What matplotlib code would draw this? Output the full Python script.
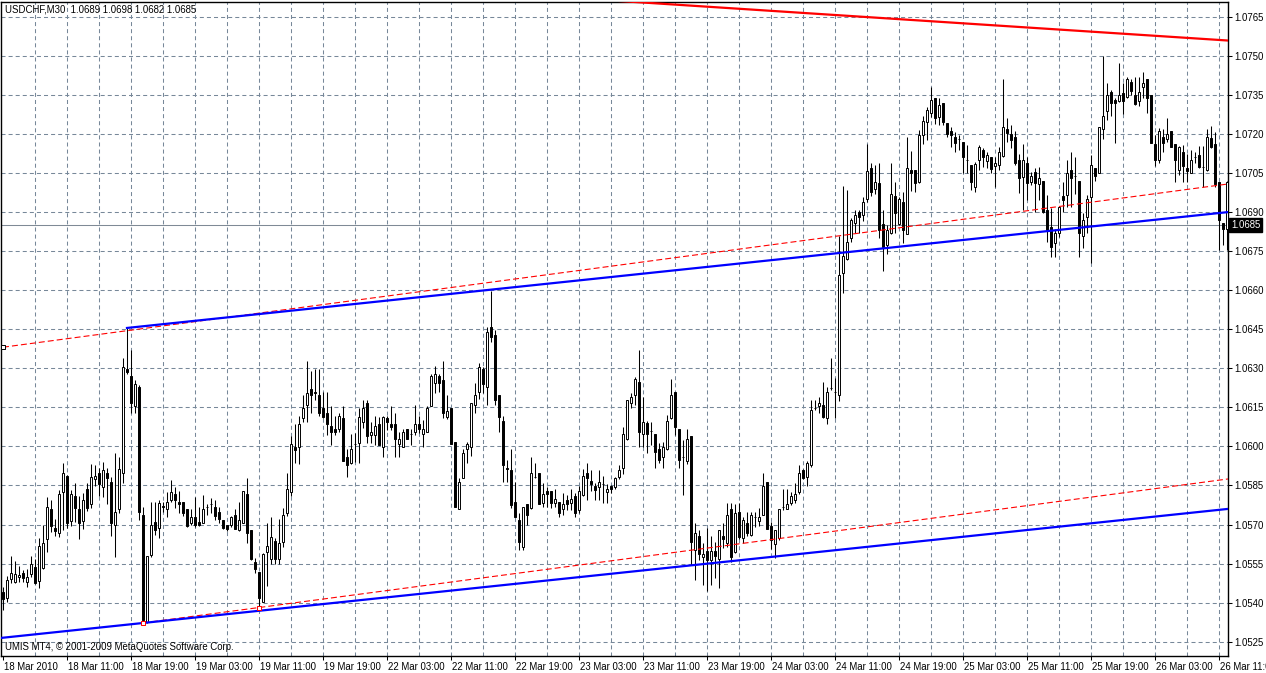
import numpy as np
import matplotlib
matplotlib.use("Agg")
import matplotlib.pyplot as plt
import matplotlib.transforms as mtransforms

# USDCHF M30 bars, prices in pips above 1.0000
open_pips = [
    544, 541.6, 549, 548, 550, 551.5, 548, 551, 553.8, 548.4,
    553.2, 564.5, 576, 568.5, 566.6, 582.6, 588.6, 571.3, 580.9, 576,
    571.3, 583.5, 577.7, 587.6, 589.6, 584.5, 589.9, 586.4, 569.7, 575.8,
    589.6, 629.7, 627, 615.7, 622.7, 573.6, 532.7, 558.3, 571, 568.5,
    577, 575.8, 579.6, 581.7, 578.8, 578.8, 575.8, 570.7, 573, 571,
    570.7, 576.6, 577.9, 576.6, 574.9, 571.7, 569.8, 569.7, 573.6, 567.9,
    570.7, 581.7, 567.9, 555.7, 551.9, 540.3, 559.6, 556.6, 563.8, 556.6,
    563.4, 574.5, 582.6, 599.9, 599.9, 610.8, 615.9, 621.9, 620.8, 619.7,
    614.6, 612.7, 607.8, 606.5, 606.5, 610.8, 595.8, 593.5, 601, 601.4,
    609.5, 616.5, 604.4, 604.4, 608.8, 599.6, 610.8, 608.8, 608.8, 600.9,
    599.6, 606.5, 604.7, 605.6, 608.6, 604.8, 605.6, 615.5, 624.2, 627,
    625.7, 611.4, 614.6, 601.8, 575.8, 587.7, 598.9, 599.9, 615.9, 621,
    629.6, 622.7, 645.7, 642.8, 619.7, 609.9, 591.6, 590.9, 578.8, 571.7,
    561.5, 577.9, 576.2, 588.4, 589.6, 578.4, 583, 583, 578.4, 578.8,
    575.8, 579.6, 578.4, 580.9, 575.6, 581.3, 589.9, 586.8, 584.8, 584.5,
    585.5, 582.6, 584.8, 584.5, 588.4, 591.6, 602.7, 616.5, 619.7, 624.9,
    604.8, 608.9, 606, 604.8, 598.9, 595.8, 598.9, 610.8, 621, 606.5,
    596, 594.5, 604, 560.2, 565.6, 557.7, 560, 556.4, 560, 556.6,
    565.6, 562.8, 575.8, 559.6, 574.9, 564.7, 570.7, 566, 572.7, 571.5,
    573.6, 586.4, 569.5, 562.7, 565, 576.6, 575.8, 578.4, 579.6, 582.6,
    590.9, 588.4, 592.8, 614.6, 615.5, 615.9, 610.8, 622.3, 620.8, 619.7,
    666.7, 671.8, 679.9, 685.7, 690.1, 688.9, 694.9, 706.8, 698.7, 701,
    685.6, 677.3, 681.8, 696.1, 685.4, 694, 681.6, 706.1, 706.1, 701.7,
    719.6, 724.7, 727.9, 734, 726.6, 731.8, 724.1, 721.3, 718.7, 717.9,
    717, 710, 708.1, 699.8, 710, 713.8, 709.7, 711, 707.7, 708.1,
    711.5, 722.1, 720, 718.7, 710, 703.3, 708.7, 701.7, 705.5, 700.8,
    702, 690.8, 684.4, 678, 681.8, 696.2, 696.5, 706.1, 703.8, 702.1,
    680.8, 688.2, 695.9, 706.8, 704.9, 721.8, 729, 736.3, 733, 732.8,
    735.9, 734.3, 740.1, 735, 732.8, 737.9, 741, 735, 716.1, 710,
    719, 717.9, 721.3, 716.1, 706.2, 713.2, 706.8, 704.9, 711, 711.9,
    707.2, 706.2, 718.3, 716.1, 701.7, 685.9, 683.4,
]
high_pips = [
    546, 550.2, 558, 556, 554, 552.7, 553, 558, 556.6, 564.7,
    569.7, 580.7, 579.4, 572, 583.2, 593.5, 589, 583.2, 586, 580.9,
    582, 586, 593.2, 592.8, 591.6, 594.1, 591.6, 588.4, 597.6, 596,
    633.8, 645.5, 637, 625.5, 623.6, 576.8, 558, 578.8, 578.8, 579.6,
    578.8, 582.6, 587, 584.5, 583, 578.8, 575.8, 575.8, 580.7, 576.8,
    581.3, 577.8, 580, 579.6, 576.8, 571.7, 569.8, 573.2, 575.8, 578.8,
    582.8, 587.7, 567.9, 557, 551.9, 558.9, 570.4, 573, 565, 572.3,
    576.2, 589.9, 604, 608.8, 611.7, 619.7, 632.8, 628.9, 629.6, 629.6,
    621, 621, 615.5, 611.7, 612.7, 615.5, 599.2, 604.8, 605, 614.6,
    617.8, 617.8, 609.5, 611.7, 611.4, 611.7, 611.7, 615.5, 612.7, 605.6,
    606.5, 606.5, 606.8, 615.9, 611.7, 610.1, 615.5, 628, 630.9, 627.8,
    632.8, 619.7, 614.6, 601.8, 587.7, 598.9, 601.8, 616.8, 624.2, 631.9,
    630.6, 645.7, 659.8, 644.7, 619.7, 611.7, 594.8, 598.9, 586.4, 574.3,
    576.6, 577.9, 595.8, 593.7, 589.6, 586.1, 584.5, 583, 583.5, 578.8,
    582, 581.3, 583.5, 582.2, 584.8, 591.2, 593.5, 590.9, 585.8, 590.8,
    588.6, 585.5, 585.2, 588.4, 592.8, 607.6, 617.8, 620.4, 626.8, 637,
    619.1, 609.9, 609.5, 604.8, 601.2, 601.8, 612, 625.8, 621, 606.5,
    602.4, 606.5, 604, 570.7, 567.9, 562.8, 568.5, 565.6, 563.4, 567.9,
    570.7, 578.4, 578.1, 577.9, 578.1, 573, 574.9, 574.9, 574.9, 576.2,
    589.6, 586.4, 571, 567.9, 575.8, 583.5, 583.5, 582.6, 585.8, 592.8,
    591.2, 594.5, 617.8, 617.8, 619.1, 624.8, 622.9, 633.8, 626.1, 680.8,
    700, 698.5, 687.6, 690.8, 690.8, 695.9, 716.1, 708.7, 708.1, 709,
    690.8, 685, 708.7, 701.7, 695.9, 697.8, 719, 713.6, 706.1, 721.5,
    727, 730.5, 738.2, 734, 733.7, 731.8, 724.1, 722.8, 720.9, 719.6,
    717, 715.7, 708.1, 709.4, 715.8, 714.5, 713.2, 711.3, 711.3, 715.1,
    741.1, 726, 723.4, 721.3, 712.5, 716.1, 711.3, 705.5, 706.8, 707.2,
    702, 696.5, 691.4, 683.7, 692.1, 701.7, 710, 713.2, 711, 702.1,
    689.5, 696.6, 711.9, 706.8, 722.8, 750, 739.5, 736.9, 733.7, 747.1,
    739.5, 742, 741, 742, 742, 743.9, 741, 735, 719.6, 722.2,
    721.8, 726, 721.3, 716.1, 715.4, 715.8, 712.5, 713.8, 713.2, 715.4,
    715.4, 721.8, 723, 720.9, 701.7, 685.9, 702,
]
low_pips = [
    537, 540.3, 547.6, 547.5, 548, 548, 546, 550, 547, 545.5,
    552.8, 559.5, 567.2, 565.5, 565.3, 567.9, 568.5, 569.4, 571, 564.3,
    568.1, 575.3, 576.2, 584.8, 580.9, 580.7, 577.9, 565.6, 557.6, 574.3,
    585.8, 628, 612.7, 612.7, 571.7, 532.2, 532, 557.6, 566, 565,
    574.9, 573, 578.8, 576.2, 574.3, 573.2, 569.2, 569.8, 568.9, 569.4,
    570.7, 573.6, 574.3, 571.9, 570.7, 568.1, 567.5, 568.9, 568.1, 567.6,
    570.4, 563, 556.4, 551.2, 537.8, 540.3, 546.4, 555, 554.8, 554.8,
    561.5, 573.2, 580.9, 593.5, 593.2, 609.5, 609.5, 613, 617.8, 611.7,
    610.8, 604.4, 600.5, 604.4, 605.6, 594.5, 588.4, 593.2, 594, 593.5,
    607, 601.2, 601.2, 600.5, 600.5, 595.8, 606.3, 606.3, 596, 595.8,
    599.6, 602.7, 600.5, 604.4, 605, 599.6, 605.6, 615.5, 620.4, 621,
    610.8, 610.4, 600.9, 576.6, 575.8, 587.7, 593.5, 596.3, 612.7, 618.1,
    620.6, 615.9, 640.2, 615.9, 605.6, 586.4, 586.4, 576.2, 572.7, 560.4,
    560.4, 569.8, 575.8, 587.7, 577.9, 576.6, 576.6, 576.2, 576.6, 572.7,
    573.6, 575.6, 575.6, 572.7, 574.5, 581, 579.6, 583, 579.6, 579.5,
    578.4, 578.4, 582, 583.5, 587.3, 589.4, 602.5, 614.6, 615.9, 599.6,
    599.6, 597.6, 600.5, 591.6, 593.5, 591.6, 598.6, 610.4, 604.4, 591.6,
    581.3, 593.2, 554.4, 548.7, 556.4, 546.8, 544.6, 546.8, 549.3, 545.5,
    560.8, 561.5, 555.7, 559.2, 564.3, 562.8, 565.6, 565.6, 569.2, 569.4,
    573.6, 568.1, 560.5, 557, 564, 575.6, 575.8, 577.5, 578.1, 581.7,
    587.3, 584.8, 592.2, 614, 612.7, 611.1, 608.6, 621.6, 610.8, 617.5,
    658.8, 671.6, 678.6, 681.8, 682.1, 686.7, 694, 696.2, 696.9, 679.9,
    667.5, 673.9, 681.6, 681.8, 685, 678, 681.6, 698.2, 697.8, 701,
    716, 717.7, 726.6, 724, 723.4, 723.4, 718.7, 714.9, 713.2, 713.8,
    704.9, 704.9, 698.5, 697.8, 706.1, 707.4, 706.8, 704.9, 699.8, 706.1,
    711, 717, 714.5, 708.1, 697.2, 690.8, 694.6, 700.4, 690.1, 694.6,
    689.5, 678.6, 672.9, 672.6, 680.3, 690.1, 692.1, 692.1, 697, 672.9,
    676.1, 681.8, 670.6, 702, 704.9, 718, 725.4, 726.9, 716.7, 732.4,
    727.7, 733.7, 735, 731.1, 730.8, 734, 727.9, 716.7, 707.7, 709,
    713.2, 717, 714.9, 701.7, 704.3, 701.7, 701.7, 704.9, 709, 706.8,
    699.8, 705.9, 714.5, 699.8, 675.4, 677.4, 675.4,
]
close_pips = [
    541.5, 548.7, 551.5, 551, 550.5, 549.5, 550, 554.8, 547.6, 561.8,
    562.8, 576.6, 569.6, 567.5, 581.7, 589.6, 570.7, 581.6, 576.2, 570.7,
    579.4, 576.2, 588.4, 588.5, 585.5, 590.9, 587.7, 570.7, 574.8, 591.5,
    630.6, 628.7, 616.5, 624, 574.7, 533.3, 557.9, 569.7, 567.9, 578.1,
    576.8, 578.8, 582.6, 579.6, 577.9, 574.3, 569.4, 573, 569.7, 569.7,
    575.8, 576.6, 577.9, 573.2, 572.3, 568.5, 568.1, 572.7, 568.1, 571.7,
    582.8, 566.6, 556.6, 552.8, 541.6, 558.7, 561.7, 565.3, 556.6, 563,
    573.6, 583.5, 600.9, 598.8, 608.8, 614.6, 620.6, 619.7, 620.6, 612.7,
    611.4, 608.8, 605.6, 605.6, 611.7, 594.5, 592.8, 599.2, 600.9, 611.4,
    614.6, 604, 605.6, 607.8, 600.5, 611.4, 609.5, 607.6, 602.7, 602.7,
    605.6, 602.7, 604.7, 608.6, 606.5, 606.5, 614.6, 627, 627.8, 624.5,
    612.7, 613.7, 600.9, 576.6, 586.4, 597.6, 600.9, 616.5, 619.7, 630.6,
    624, 644.1, 641.9, 617.8, 611.4, 592.8, 591.5, 577.5, 572.7, 563.4,
    576.6, 573.6, 589.6, 588.4, 577.9, 581.7, 581.7, 578.1, 579.8, 574.5,
    577.9, 577.9, 579.8, 574.5, 583, 588.6, 587.7, 585.5, 583.2, 586.4,
    585.5, 583.5, 583.5, 587.7, 590.9, 604.8, 617.8, 619.1, 625.8, 605.7,
    609.5, 604.8, 606, 598, 594.8, 599.9, 609.9, 619.7, 607.6, 594.8,
    596, 602.7, 563.4, 566.9, 558.7, 558.7, 556.4, 560, 557.9, 567.9,
    564.3, 573.6, 557.7, 574.3, 565.3, 571.7, 566.6, 573.6, 572.7, 572.7,
    584.8, 568.1, 564, 567.9, 575.8, 576.6, 577.9, 580.9, 581.7, 589.6,
    587.7, 593.5, 614, 614.6, 616.5, 611.4, 621, 622.3, 620.8, 665.8,
    673.1, 678.6, 686.9, 688.9, 688, 694, 705.9, 697.8, 701.7, 683.3,
    676.7, 683, 696.9, 689.8, 694.9, 683.1, 706.8, 704.9, 701, 719.6,
    725, 729.2, 733, 726, 731.1, 724.7, 720, 719.6, 716.7, 717.9,
    711.3, 710, 701.7, 708.5, 714.9, 711, 711.9, 706.4, 708.7, 713.2,
    722.8, 720.5, 717.7, 708.7, 703, 710, 701.3, 703.8, 701.3, 703,
    690.1, 683.1, 676.7, 682.1, 692.1, 694.6, 704.9, 703, 703.8, 681.8,
    687, 694.9, 708.1, 703.9, 722.8, 726.9, 735, 731.8, 731.8, 735,
    732.8, 741, 736.6, 731.5, 736.3, 739.7, 734, 716.7, 710, 721.3,
    716.7, 720, 714.9, 710, 714.9, 707.7, 705.9, 710, 711, 707.4,
    707.2, 719, 714.9, 700.8, 687, 683.4, 701.7,
]

# one time label every 16 bars (8 hours)
time_labels = [
    "18 Mar 2010", "18 Mar 11:00", "18 Mar 19:00", "19 Mar 03:00",
    "19 Mar 11:00", "19 Mar 19:00", "22 Mar 03:00", "22 Mar 11:00",
    "22 Mar 19:00", "23 Mar 03:00", "23 Mar 11:00", "23 Mar 19:00",
    "24 Mar 03:00", "24 Mar 11:00", "24 Mar 19:00", "25 Mar 03:00",
    "25 Mar 11:00", "25 Mar 19:00", "26 Mar 03:00", "26 Mar 11:00",
]
price_ticks = [1.0525, 1.0540, 1.0555, 1.0570, 1.0585, 1.0600, 1.0615, 1.0630,
               1.0645, 1.0660, 1.0675, 1.0690, 1.0705, 1.0720, 1.0735, 1.0750, 1.0765]

# trend lines drawn on the chart: (bar, price) start and end
blue_lower = [(-0.75, 1.05264), (306.25, 1.05760)]
blue_upper = [(31, 1.06455), (306.25, 1.06900)]
red_dash_lower = [(35, 1.05322), (306.25, 1.05875)]
red_dash_upper = [(0, 1.06381), (306.25, 1.07008)]
red_top = [(150, 1.07715), (306.25, 1.07559)]
anchor_points = [(0, 1.06381), (35, 1.05322), (64, 1.05380)]

bid_price = 1.0685
header = "USDCHF,M30  1.0689 1.0698 1.0682 1.0685"
footer = "UMIS MT4, \u00a9 2001-2009 MetaQuotes Software Corp."

plt.rcParams["font.family"] = ["Liberation Sans", "DejaVu Sans"]
plt.rcParams["lines.scale_dashes"] = False
fs = 6.9

o = 1 + np.array(open_pips) / 10000
h = 1 + np.array(high_pips) / 10000
l = 1 + np.array(low_pips) / 10000
c = 1 + np.array(close_pips) / 10000
bars = np.arange(len(c))

W, H = 1266, 673
fig = plt.figure(figsize=(W / 100, H / 100), dpi=100)
ax = fig.add_axes([1 / W, 17 / H, 1227 / W, 654 / H])
ax.set_xlim(-0.5, 306.25)
ax.set_ylim(1.05195, 1.07707)

# grid
grid_style = dict(color="#778899", lw=0.75, ls=(0, (2.9, 2.2)), zorder=1)
for x in range(8, 305, 8):
    ax.axvline(x, **grid_style)
for p in price_ticks:
    ax.axhline(p, **grid_style)

# bid line
ax.axhline(bid_price, color="#7f8a96", lw=0.75, zorder=2)

# candles
up = c >= o
ax.vlines(bars, l, h, color="black", lw=0.75, zorder=3)
ax.bar(bars[up], (c - o)[up], bottom=o[up], width=0.6, facecolor="white",
       edgecolor="black", lw=0.7, zorder=4)
ax.bar(bars[~up], (c - o)[~up], bottom=o[~up], width=0.6, facecolor="black",
       edgecolor="black", lw=0.7, zorder=4)

# trend lines
def draw_line(pts, **kw):
    (x0, y0), (x1, y1) = pts
    ax.plot([x0, x1], [y0, y1], **kw)

draw_line(red_dash_lower, color="#ff0000", lw=0.8, ls=(0, (4.3, 2.2)), zorder=5)
draw_line(red_dash_upper, color="#ff0000", lw=0.8, ls=(0, (4.3, 2.2)), zorder=5)
draw_line(blue_lower, color="#0000ff", lw=1.6, zorder=6)
draw_line(blue_upper, color="#0000ff", lw=1.6, zorder=6)
draw_line(red_top, color="#ff0000", lw=1.6, zorder=6)
ax.scatter([p[0] for p in anchor_points], [p[1] for p in anchor_points], marker="s",
           s=9, facecolor="white", edgecolor=["black", "#ff0000", "#ff0000"],
           lw=0.7, zorder=7)

# axes / ticks
for sp in ax.spines.values():
    sp.set_color("black")
    sp.set_linewidth(1)
ax.yaxis.tick_right()
ax.set_yticks(price_ticks)
ax.set_yticklabels([f"{p:.4f}" for p in price_ticks])
ax.tick_params(axis="y", direction="out", length=2.9, width=0.75, pad=2,
               labelsize=fs, colors="black")
ax.set_xticks(np.arange(0, 16 * len(time_labels), 16))
ax.set_xticklabels(time_labels)
ax.tick_params(axis="x", direction="out", length=2.9, width=0.75, pad=1.5,
               labelsize=fs, colors="black")
offset = mtransforms.ScaledTranslation(1.5 / 100, 0, fig.dpi_scale_trans)
for lbl in ax.get_xticklabels():
    lbl.set_horizontalalignment("left")
    lbl.set_transform(lbl.get_transform() + offset)

# current price box
trans = mtransforms.blended_transform_factory(ax.transAxes, ax.transData)
ax.text(1.0 + 3 / 1227, bid_price, f"{bid_price:.4f}", transform=trans, ha="left",
        va="center", color="white", fontsize=fs,
        bbox=dict(facecolor="black", edgecolor="black", pad=1.6))

fig.text(5 / W, 1 - 10 / H, header, fontsize=fs, va="center", ha="left")
fig.text(5 / W, 1 - 647 / H, footer, fontsize=fs, va="center", ha="left")

fig.savefig("out.png", dpi=100, facecolor="white")
